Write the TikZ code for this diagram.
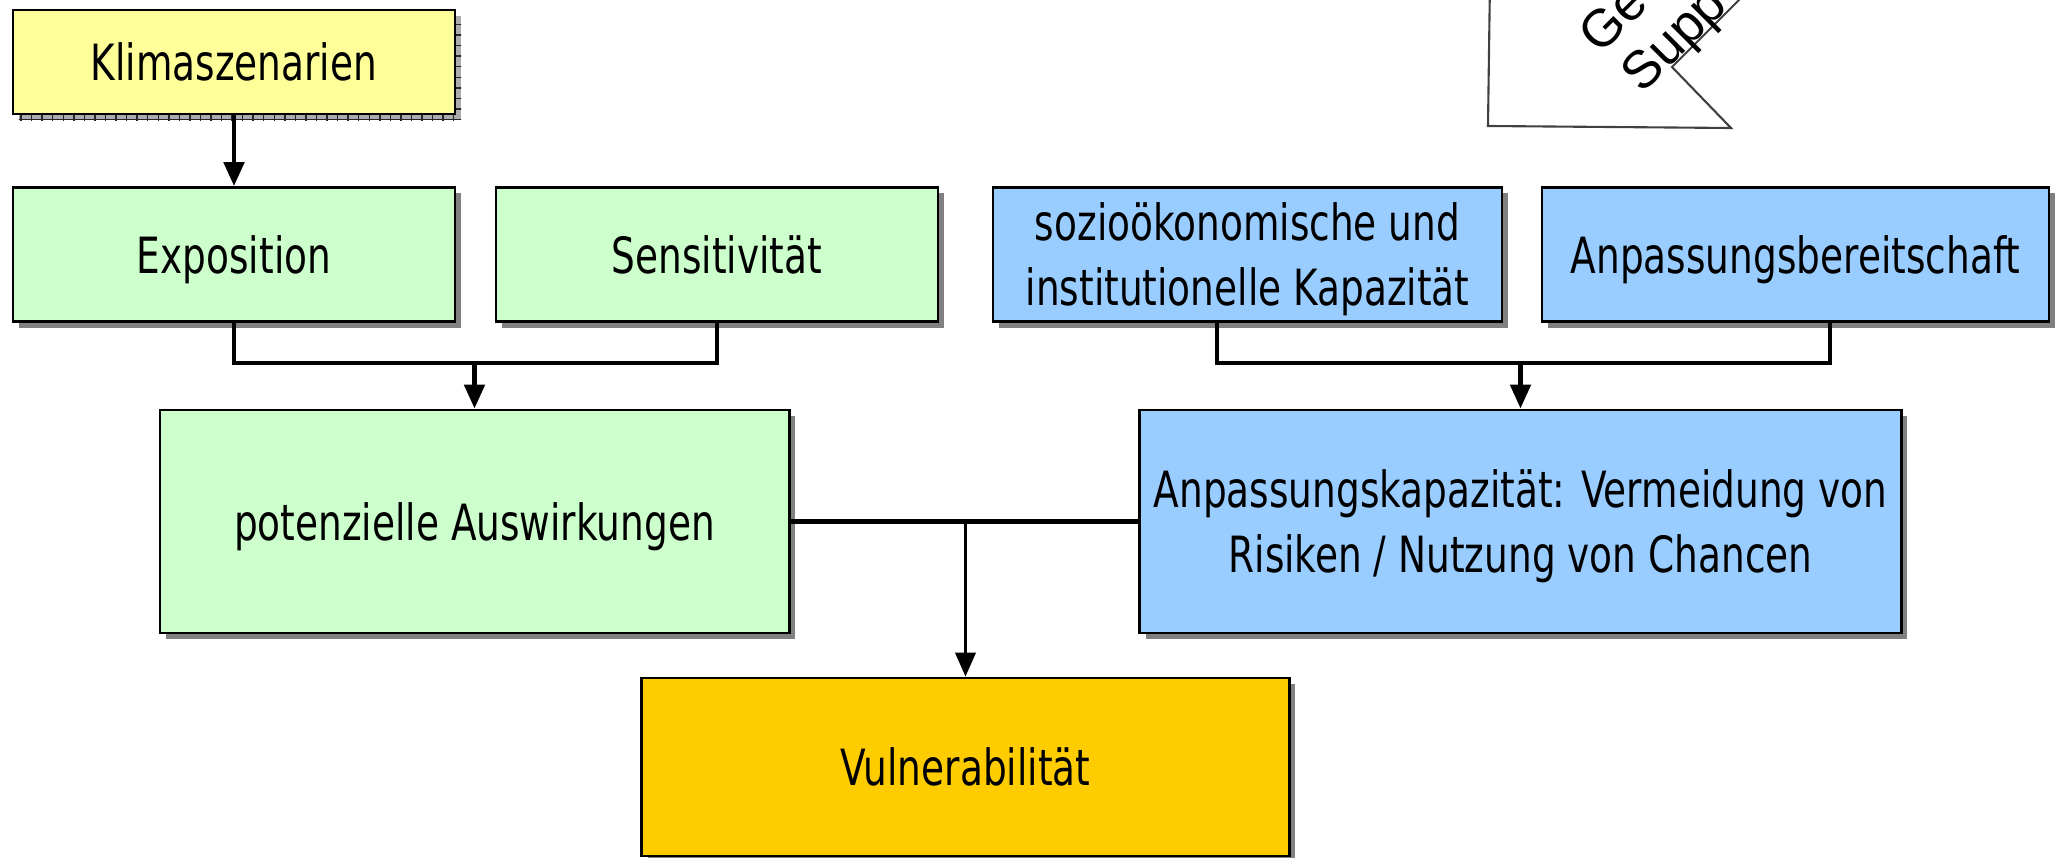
\documentclass[tikz,border=0pt]{standalone}
\usepackage{fontspec}
\setmainfont[FakeStretch=0.75]{DejaVu Sans}
\newfontfamily\calloutfont{Liberation Sans}
\usetikzlibrary{arrows.meta}
\usetikzlibrary{shadows}
\usetikzlibrary{patterns}

\definecolor{klimagelb}{HTML}{FFFF99}
\definecolor{wirkgruen}{HTML}{CCFFCC}
\definecolor{kapblau}{HTML}{99CCFF}
\definecolor{vulorange}{HTML}{FFCC00}

\begin{document}
\begin{tikzpicture}[x=0.01cm, y=-0.01cm, >={Triangle[width=0.2cm,length=0.24cm]},
        box/.style={draw=black, line width=0.75pt, align=center, inner sep=0pt, text depth=0pt,
            font=\fontsize{14.2pt}{18.5pt}\selectfont,
            drop shadow={shadow xshift=0.06cm, shadow yshift=-0.06cm, fill=gray, opacity=1}},
        klimabox/.style={box, fill=klimagelb,
            drop shadow={shadow xshift=0.06cm, shadow yshift=-0.06cm, fill=gray!65, opacity=1,
                postaction={pattern=grid, pattern color=gray!30!black}}},
        conn/.style={line width=1.4pt}]
        \useasboundingbox (0,0) rectangle (2056,858);

        % obere Reihe
        \node[klimabox, minimum width=4.42cm, minimum height=1.04cm] (klima) at (234,62) {Klimaszenarien};
        \node[box, fill=wirkgruen, minimum width=4.42cm, minimum height=1.34cm] (expo) at (234,254.5) {Exposition};
        \node[box, fill=wirkgruen, minimum width=4.42cm, minimum height=1.34cm] (sens) at (717,254.5) {Sensitivität};
        \node[box, fill=kapblau, minimum width=5.09cm, minimum height=1.34cm] (sozio) at (1247.5,254.5) {sozioökonomische und\\institutionelle Kapazität};
        \node[box, fill=kapblau, minimum width=5.07cm, minimum height=1.34cm] (bereit) at (1795.5,254.5) {Anpassungsbereitschaft};

        % mittlere Reihe
        \node[box, fill=wirkgruen, minimum width=6.29cm, minimum height=2.23cm] (pot) at (474.5,521.5) {potenzielle Auswirkungen};
        \node[box, fill=kapblau, minimum width=7.61cm, minimum height=2.23cm] (kap) at (1520.5,521.5) {Anpassungskapazität: Vermeidung von\\Risiken / Nutzung von Chancen};

        % unten
        \node[box, fill=vulorange, minimum width=6.47cm, minimum height=1.78cm] (vul) at (965.5,767) {Vulnerabilität};

        % Verbindungen
        \coordinate (jl) at (474.5,363);
        \coordinate (jr) at (kap.north |- jl);
        \draw[conn,->] (klima) -- (expo);
        \draw[conn] (expo.south) |- (jl) -| (sens.south);
        \draw[conn,->] (jl) -- (pot.north);
        \draw[conn] ([xshift=-0.305cm]sozio.south) |- (jr) -| ([xshift=0.345cm]bereit.south);
        \draw[conn,->] (jr) -- (kap.north);
        \coordinate (jv) at (vul.north |- pot.east);
        \draw[conn] (pot.east) -- (kap.west);
        \draw[conn,line width=1.1pt,->] (jv) -- (vul.north);

        % abgeschnittene Sprechblase
        \begin{scope}
            \clip (0,0) rectangle (2056,858);
            \draw[line width=0.6pt, draw=black!75] (1490,-20) -- (1488,126) -- (1731,128) -- (1672,67) -- (1760,-21);
            \node[anchor=base west, rotate=45, inner sep=0pt, font=\calloutfont\fontsize{15pt}{17pt}\selectfont] (ge) at (1600,56) {Ge};
            \node[anchor=base west, rotate=45, inner sep=0pt, font=\calloutfont\fontsize{15pt}{17pt}\selectfont] (supp) at (1642,95) {Supp};
        \end{scope}
\end{tikzpicture}
\end{document}
